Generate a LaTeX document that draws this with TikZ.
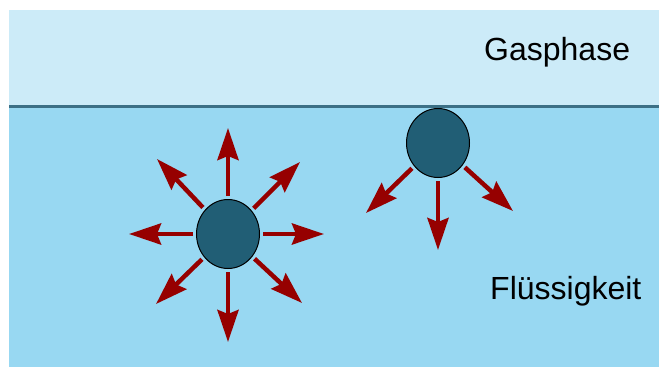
\documentclass[tikz,border=0pt]{standalone}
\usepackage{fontspec}
\setmainfont{Liberation Sans}
\usetikzlibrary{shapes.geometric,arrows.meta}
\definecolor{gasblue}{RGB}{204,235,248}
\definecolor{liqblue}{RGB}{152,216,242}
\definecolor{surf}{RGB}{60,112,134}
\definecolor{molfill}{RGB}{33,94,117}
\definecolor{arrred}{RGB}{150,0,0}
\tikzset{
  molecule/.style={ellipse, draw=black, line width=1pt, fill=molfill, minimum width=63pt, minimum height=69pt, inner sep=0pt},
  force/.style={draw=arrred, line width=4.5pt, shorten <=3pt, -{Stealth[length=32pt, width=21pt, inset=4pt]}},
  label/.style={anchor=base west, inner sep=0pt, font=\fontsize{32pt}{36pt}\selectfont}
}
\begin{document}
\begin{tikzpicture}[x=1pt, y=-1pt]
\useasboundingbox (0,0) rectangle (659,367);
\fill[white] (0,0) rectangle (659,367);
\fill[gasblue] (9,10) rectangle (659,106);
\fill[liqblue] (9,106) rectangle (659,367);
\draw[surf, line width=3pt] (9,106) -- (659,106);
\node[label] (gas) at (484,60) {Gasphase};
\node[label] (liq) at (490,299) {Flüssigkeit};
% molecules
\node[molecule] (m1) at (228,234) {};
\node[molecule] (m2) at (438,143) {};
% tips
\coordinate (aN) at (228,128);
\coordinate (aS) at (228,342);
\coordinate (aW) at (129,234);
\coordinate (aE) at (324,234);
\coordinate (aNW) at (157,159);
\coordinate (aNE) at (300,162);
\coordinate (aSW) at (156,304);
\coordinate (aSE) at (302,303);
\coordinate (bS) at (438,250);
\coordinate (bSW) at (366,213);
\coordinate (bSE) at (513,211);
\foreach \t in {aN,aS,aW,aE,aNW,aNE,aSW,aSE} \draw[force] (m1) -- (\t);
\foreach \t in {bS,bSW,bSE} \draw[force] (m2) -- (\t);
\end{tikzpicture}
\end{document}
